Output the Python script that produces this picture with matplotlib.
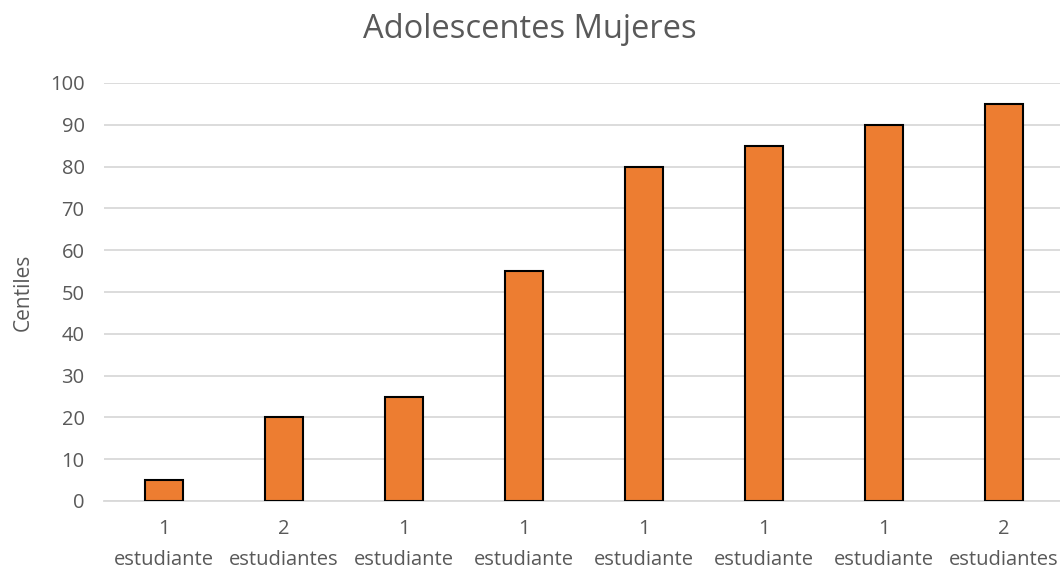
import matplotlib
matplotlib.use("Agg")
import matplotlib.pyplot as plt
import numpy as np

categories = ["1\nestudiante", "2\nestudiantes", "1\nestudiante", "1\nestudiante",
              "1\nestudiante", "1\nestudiante", "1\nestudiante", "2\nestudiantes"]
centiles = [5, 20, 25, 55, 80, 85, 90, 95]
yticks = [0, 10, 20, 30, 40, 50, 60, 70, 80, 90, 100]

plt.rcParams['font.family'] = ['Open Sans', 'DejaVu Sans']
txt = "#595959"

fig = plt.figure(figsize=(10.6, 5.71), dpi=100)
ax = fig.add_axes([104 / 1060, 70 / 571, 960 / 1060, 418 / 571])

x = np.arange(len(categories))
ax.bar(x, centiles, width=0.32, color="#ED7D31", edgecolor="black", linewidth=1.5, zorder=3)

ax.set_xlim(-0.5, len(categories) - 0.5)
ax.set_ylim(0, 100)
ax.set_yticks(yticks)
ax.set_xticks(x)
ax.set_xticklabels(categories, fontsize=14.5, color=txt, linespacing=1.75)
ax.tick_params(axis="y", labelsize=14.5, colors=txt, length=0, pad=14)
ax.tick_params(axis="x", length=0, pad=13)
ax.grid(axis="y", color="#D9D9D9", linewidth=1.3, zorder=0)
for s in ["top", "right", "left"]:
    ax.spines[s].set_visible(False)
ax.spines["bottom"].set_color("#D9D9D9")
ax.spines["bottom"].set_linewidth(1.3)

ax.set_ylabel("Centiles", fontsize=15, color=txt, labelpad=12)
fig.text(0.5, 1 - 30 / 571, "Adolescentes Mujeres", ha="center", va="center",
         fontsize=23.5, color=txt)

fig.savefig("out.png", dpi=100)
